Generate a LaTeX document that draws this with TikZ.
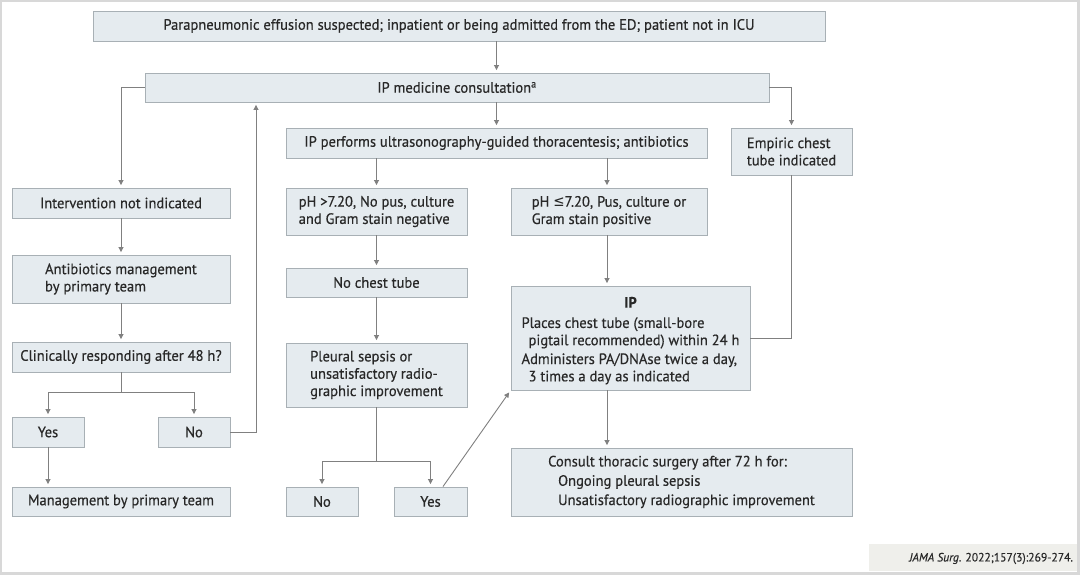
\documentclass[tikz,border=0pt]{standalone}
\usepackage{fontspec}
\setmainfont{PT Sans}[FakeStretch=0.97,FakeBold=0.4]
\newfontfamily\symfont{DejaVu Sans}[FakeStretch=0.9]
\usetikzlibrary{arrows.meta,calc}
\definecolor{boxfill}{RGB}{229,235,239}
\definecolor{boxline}{RGB}{168,176,181}
\definecolor{arrowc}{RGB}{128,128,128}
\definecolor{txt}{RGB}{40,40,40}
\definecolor{framec}{RGB}{216,216,216}
\definecolor{citefill}{RGB}{239,239,235}
\begin{document}
\begin{tikzpicture}[x=1pt,y=-1pt,
  box/.style={draw=boxline, fill=boxfill, line width=0.9pt, inner sep=0pt, text=txt,
    font=\fontsize{15}{17.3}\selectfont, align=center},
  lbox/.style={box, align=left},
  arr/.style={draw=arrowc, line width=0.9pt, -{Triangle[length=5pt,width=5pt]}, shorten >=2.5pt},
  ln/.style={draw=arrowc, line width=0.9pt}]
\fill[framec] (0,0) rectangle (1080,575);
\fill[white] (2,2) rectangle (1077,572);
\useasboundingbox (0,0) rectangle (1080,575);

% top row
\node[box, minimum width=732pt, minimum height=30pt] (top) at (459,26)
  {Parapneumonic effusion suspected; inpatient or being admitted from the ED; patient not in ICU};
\node[box, minimum width=624pt, minimum height=29pt] (consult) at (457,87.5)
  {IP medicine consultation\textsuperscript{a}};
\node[box, minimum width=421pt, minimum height=30pt] (perform) at (496.5,143)
  {IP performs ultrasonography-guided thoracentesis; antibiotics};
\node[lbox, minimum width=121pt, minimum height=47pt] (empiric) at (791.5,151.5)
  {Empiric chest\\tube indicated};

% left column
\node[box, minimum width=218pt, minimum height=30pt] (interv) at (121,203)
  {Intervention not indicated};
\node[lbox, minimum width=218pt, minimum height=48pt] (antib) at (121,279)
  {Antibiotics management\\by primary team};
\node[box, minimum width=218pt, minimum height=30pt] (clin) at (121,357)
  {Clinically responding after 48 h?};
\node[box, minimum width=72pt, minimum height=30pt] (yes1) at (48,432) {Yes};
\node[box, minimum width=72pt, minimum height=30pt] (no1) at (194,432) {No};
\node[box, minimum width=218pt, minimum height=29pt] (mgmt) at (121,501.5)
  {Management by primary team};

% middle column
\node[lbox, minimum width=181pt, minimum height=47pt] (phneg) at (376.5,211.5)
  {pH >7.20, No pus, culture\\and Gram stain negative};
\node[box, minimum width=181pt, minimum height=29pt] (nochest) at (376.5,282.5)
  {No chest tube};
\node[lbox, minimum width=181pt, minimum height=64pt] (pleural) at (376.5,375)
  {Pleural sepsis or\\unsatisfactory radio-\\graphic improvement};
\node[box, minimum width=72pt, minimum height=29pt] (no2) at (322,501.5) {No};
\node[box, minimum width=73pt, minimum height=29pt] (yes2) at (430.5,501.5) {Yes};

% right column
\node[lbox, minimum width=196pt, minimum height=47pt] (phpos) at (609,211.5)
  {pH {\symfont ≤}7.20, Pus, culture or\\Gram stain positive};
\node[box, minimum width=239pt, minimum height=104pt] (ip) at (630.5,338) {};
\node[text=txt, inner sep=0pt, font=\fontsize{15}{17.3}\selectfont] (iptext) at ($(ip.center)+(0,3)$)
  {\begin{tabular}{@{}l@{}}
   \multicolumn{1}{@{}c@{}}{\textbf{IP}}\\[3pt]
   Places chest tube (small-bore\\
   \hspace{7pt}pigtail recommended) within 24 h\\[1.5pt]
   Administers PA/DNAse twice a day,\\
   \hspace{7pt}3 times a day as indicated
   \end{tabular}};
\node[lbox, minimum width=341pt, minimum height=68pt, font=\fontsize{15}{19.3}\selectfont] (thor) at (681.5,482)
  {Consult thoracic surgery after 72 h for:\\
   \hspace{10pt}Ongoing pleural sepsis\\
   \hspace{10pt}Unsatisfactory radiographic improvement};

% citation
\node[fill=citefill, minimum width=208pt, minimum height=27pt, inner sep=0pt] (citebg) at (973,557.5) {};
\node[anchor=east, text=txt, font=\fontsize{12}{14}\selectfont, inner sep=0pt] (cite)
  at ($(citebg.east)+(-4,1)$) {\textit{JAMA Surg}. 2022;157(3):269-274.};

% helper coordinates
\coordinate (cx) at (607,0);
\coordinate (ux) at (256,0);
\coordinate (cj) at (121,392);
\coordinate (pj) at (376.5,461);

% connectors
\draw[arr] (top.south -| perform.north) -- (consult.north -| perform.north);
\draw[arr] (consult.south -| perform.north) -- (perform.north);
\draw[arr] (consult.west) -| (interv.north);
\draw[arr] (consult.east) -| (empiric.north);
\draw[arr] (perform.south -| phneg.north) -- (phneg.north);
\draw[arr] (perform.south -| cx) -- (phpos.north -| cx);
\draw[arr] (phneg.south) -- (nochest.north);
\draw[arr] (nochest.south) -- (pleural.north);
\draw[ln] (pleural.south) -- (pj);
\draw[arr] (pj) -| (no2.north);
\draw[arr] (pj) -| (yes2.north);
\draw[arr] (phpos.south -| cx) -- (ip.north -| cx);
\draw[arr] (ip.south -| cx) -- (thor.north -| cx);
\draw[ln] (empiric.south) |- (ip.east);
\draw[arr] ($(yes2.north)+(12.5,0)$) -- (ip.south west);

\draw[arr] (interv.south) -- (antib.north);
\draw[arr] (antib.south) -- (clin.north);
\draw[ln] (clin.south) -- (cj);
\draw[arr] (cj) -| (yes1.north);
\draw[arr] (cj) -| (no1.north);
\draw[arr] (yes1.south) -- (mgmt.north -| yes1.south);
\draw[arr] (no1.east) -| (consult.south -| ux);
\end{tikzpicture}
\end{document}
